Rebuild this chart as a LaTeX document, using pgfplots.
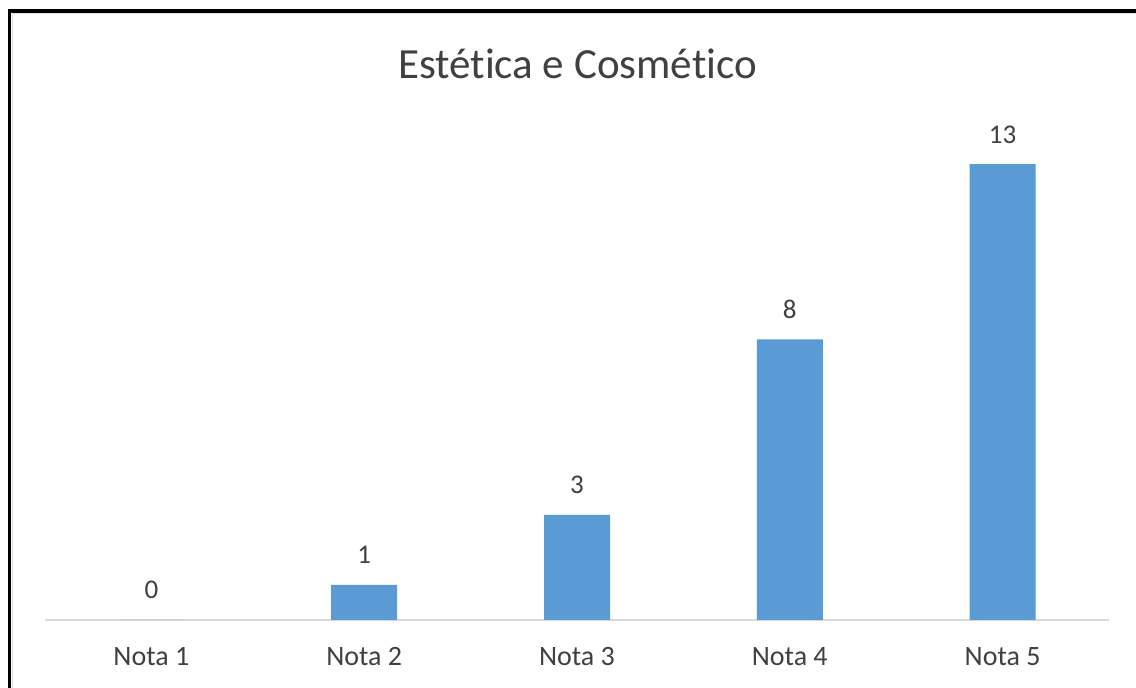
\documentclass[border=0pt]{standalone}
\usepackage{fontspec}
\setmainfont{Carlito}[Ligatures={NoCommon}]
\usepackage{pgfplots}
\pgfplotsset{compat=1.18}
\definecolor{barblue}{HTML}{5B9BD5}
\definecolor{txt}{HTML}{404040}
\definecolor{axgray}{HTML}{D9D9D9}
\begin{document}
\begin{tikzpicture}
\clip (0,0) rectangle (1136pt,688pt);
\fill[white] (0,0) rectangle (1136pt,688pt);
\draw[line width=3.5pt, black] (9.5pt,-20pt) -- (9.5pt,677pt) -- (1150pt,677pt);
\draw[line width=1.5pt, black!12] (12.5pt,-20pt) -- (12.5pt,674.5pt) -- (1150pt,674.5pt);
\node[anchor=base, text=txt, font=\fontsize{43}{50}\selectfont] at (577.5pt,609pt) {Estética e Cosmético};
\begin{axis}[
  at={(45pt,68pt)}, anchor=south west,
  scale only axis,
  width=1064pt, height=491pt,
  xmin=-0.5, xmax=4.5, ymin=0, ymax=14,
  axis x line*=bottom, axis y line=none,
  x axis line style={draw=axgray, line width=1.5pt, -},
  xtick={0,1,2,3,4},
  xticklabels={Nota 1,Nota 2,Nota 3,Nota 4,Nota 5},
  major tick length=0pt,
  xtick style={draw=none},
  ytick=\empty,
  xticklabel style={anchor=base, yshift=-46pt, text=txt, font=\fontsize{28}{32}\selectfont},
  clip=false,
  ybar, bar width=66pt,
  /pgf/number format/assume math mode=true,
  nodes near coords,
  nodes near coords style={anchor=base, yshift=21pt, text=txt, font=\fontsize{27}{32}\selectfont},
]
\addplot[fill=barblue, draw=none] coordinates {(0,0) (1,1) (2,3) (3,8) (4,13)};
\end{axis}
\end{tikzpicture}
\end{document}
